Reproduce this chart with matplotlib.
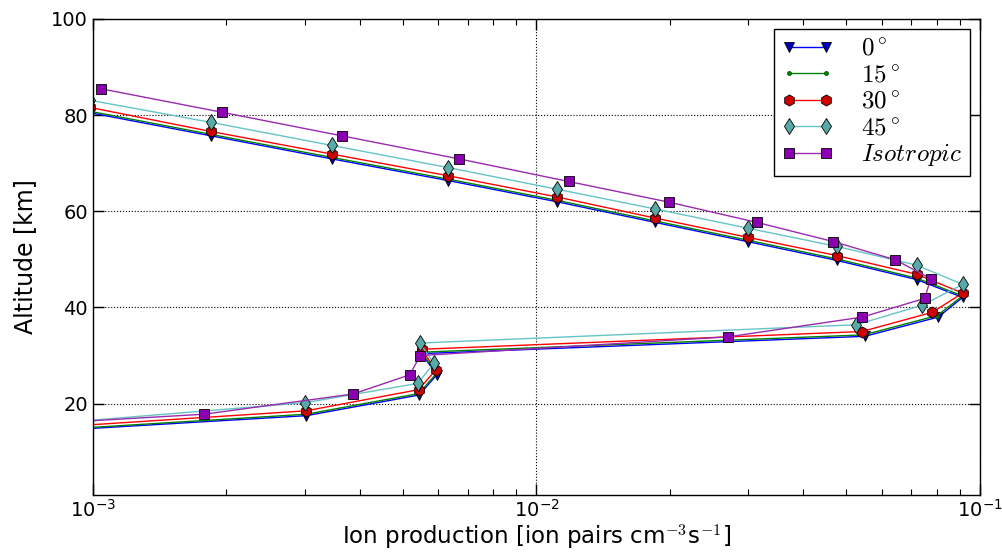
import numpy as np
import matplotlib.pyplot as plt
from matplotlib.font_manager import FontProperties

# Ion production (x) and altitude in km (y) for each zenith angle
x_0 = [0.985e-3, 1.845e-3, 3.458e-3, 6.32e-3, 1.111e-2, 1.850e-2, 2.993e-2, 4.753e-2,
       7.20e-2, 9.14e-2, 8.05e-2, 5.50e-2, 5.51e-3, 5.96e-3, 5.44e-3, 3.03e-3, 3.0e-4]
alt_0 = [80.5, 75.7, 70.9, 66.4, 62.0, 57.7, 53.7, 49.8,
         45.8, 42.1, 38.0, 34.0, 30.4, 26.0, 21.8, 17.5, 12.0]

x_15 = [0.985e-3, 1.845e-3, 3.458e-3, 6.32e-3, 1.111e-2, 1.850e-2, 2.993e-2, 4.753e-2,
        7.20e-2, 9.14e-2, 8.00e-2, 5.47e-2, 5.51e-3, 5.95e-3, 5.43e-3, 3.03e-3, 3.0e-4]
alt_15 = [80.8, 76.0, 71.2, 66.7, 62.3, 58.0, 54.0, 50.1,
          46.1, 42.4, 38.3, 34.3, 30.7, 26.3, 22.1, 17.8, 12.1]

x_30 = [0.985e-3, 1.845e-3, 3.458e-3, 6.32e-3, 1.111e-2, 1.850e-2, 2.993e-2, 4.753e-2,
        7.20e-2, 9.14e-2, 7.81e-2, 5.42e-2, 5.51e-3, 5.93e-3, 5.42e-3, 3.02e-3, 3.0e-4]
alt_30 = [81.6, 76.6, 71.9, 67.4, 63.0, 58.6, 54.6, 50.8,
          46.9, 43.0, 39.0, 35.0, 31.3, 27.0, 22.9, 18.5, 12.5]

x_45 = [0.985e-3, 1.845e-3, 3.458e-3, 6.32e-3, 1.111e-2, 1.850e-2, 2.993e-2, 4.753e-2,
        7.20e-2, 9.14e-2, 7.42e-2, 5.26e-2, 5.46e-3, 5.87e-3, 5.40e-3, 3.01e-3, 3.0e-4]
alt_45 = [83.1, 78.5, 73.7, 69.1, 64.6, 60.5, 56.5, 52.7,
          48.8, 44.8, 40.5, 36.4, 32.6, 28.4, 24.2, 20.2, 12.6]

x_iso = [1.041e-3, 1.954e-3, 3.64e-3, 6.69e-3, 1.182e-2, 1.99e-2, 3.14e-2, 4.67e-2, 6.45e-2,
         7.74e-2, 7.51e-2, 5.43e-2, 2.71e-2, 5.47e-3, 5.18e-3, 3.86e-3, 1.78e-3, 3.2e-4]
alt_iso = [85.5, 80.6, 75.7, 70.9, 66.2, 61.9, 57.7, 53.7, 49.9,
           46.0, 41.9, 38.0, 33.9, 30.0, 26.0, 22.0, 17.8, 13.8]

labels = [r'$0^\circ$', r'$15^\circ$', r'$30^\circ$', r'$45^\circ$', r'$Isotropic$']

fig = plt.figure(figsize=(10.02, 5.52), dpi=100)
ax = fig.add_axes([0.0928, 0.1033, 0.8852, 0.8623])

ax.plot(x_0, alt_0, color='#0000ff', lw=1.0, marker='v', ms=7.5,
        mfc='#0000c0', mec='black', mew=0.6, label=labels[0])
ax.plot(x_15, alt_15, color='#008000', lw=1.0, marker='.', ms=6,
        mfc='#008000', mec='#006000', mew=0.5, label=labels[1])
ax.plot(x_30, alt_30, color='#ff0000', lw=1.0, marker='h', ms=8,
        mfc='#d00000', mec='black', mew=0.6, label=labels[2])
ax.plot(x_45, alt_45, color='#66c4c4', lw=1.0, marker='d', ms=8.5,
        mfc='#5aa9a9', mec='black', mew=0.6, label=labels[3])
ax.plot(x_iso, alt_iso, color='#9a2bb0', lw=1.0, marker='s', ms=7.5,
        mfc='#8a00b0', mec='black', mew=0.6, label=labels[4])

ax.set_xscale('log')
ax.set_xlim(1e-3, 1e-1)
ax.set_ylim(1, 100)
ax.set_yticks([20, 40, 60, 80, 100])

ax.grid(True, which='major', color='black', linestyle=':', linewidth=0.8)
ax.tick_params(which='both', direction='in', top=True, right=True, labelsize=14)
ax.tick_params(which='major', length=8, width=1)
ax.tick_params(which='minor', length=4, width=0.8)
ax.tick_params(axis='x', pad=3)
for sp in ax.spines.values():
    sp.set_linewidth(1.0)

ax.set_ylabel('Altitude [km]', fontsize=17,
              family=['Liberation Sans Narrow', 'DejaVu Sans'], labelpad=10)
xfont = FontProperties(family='DejaVu Sans', size=16.5, math_fontfamily='cm')
ax.set_xlabel(r'Ion production [ion pairs cm$^{-3}$s$^{-1}$]', fontproperties=xfont, labelpad=1)

leg_font = FontProperties(size=18, math_fontfamily='cm')
leg = ax.legend(loc='upper right', numpoints=2, prop=leg_font, fancybox=False,
                framealpha=1, edgecolor='black', borderaxespad=0.4,
                handlelength=2.1, handletextpad=1.1, labelspacing=0.1, borderpad=0.3)
leg.get_frame().set_linewidth(1.0)

fig.savefig('out.png', dpi=100, facecolor='white')
